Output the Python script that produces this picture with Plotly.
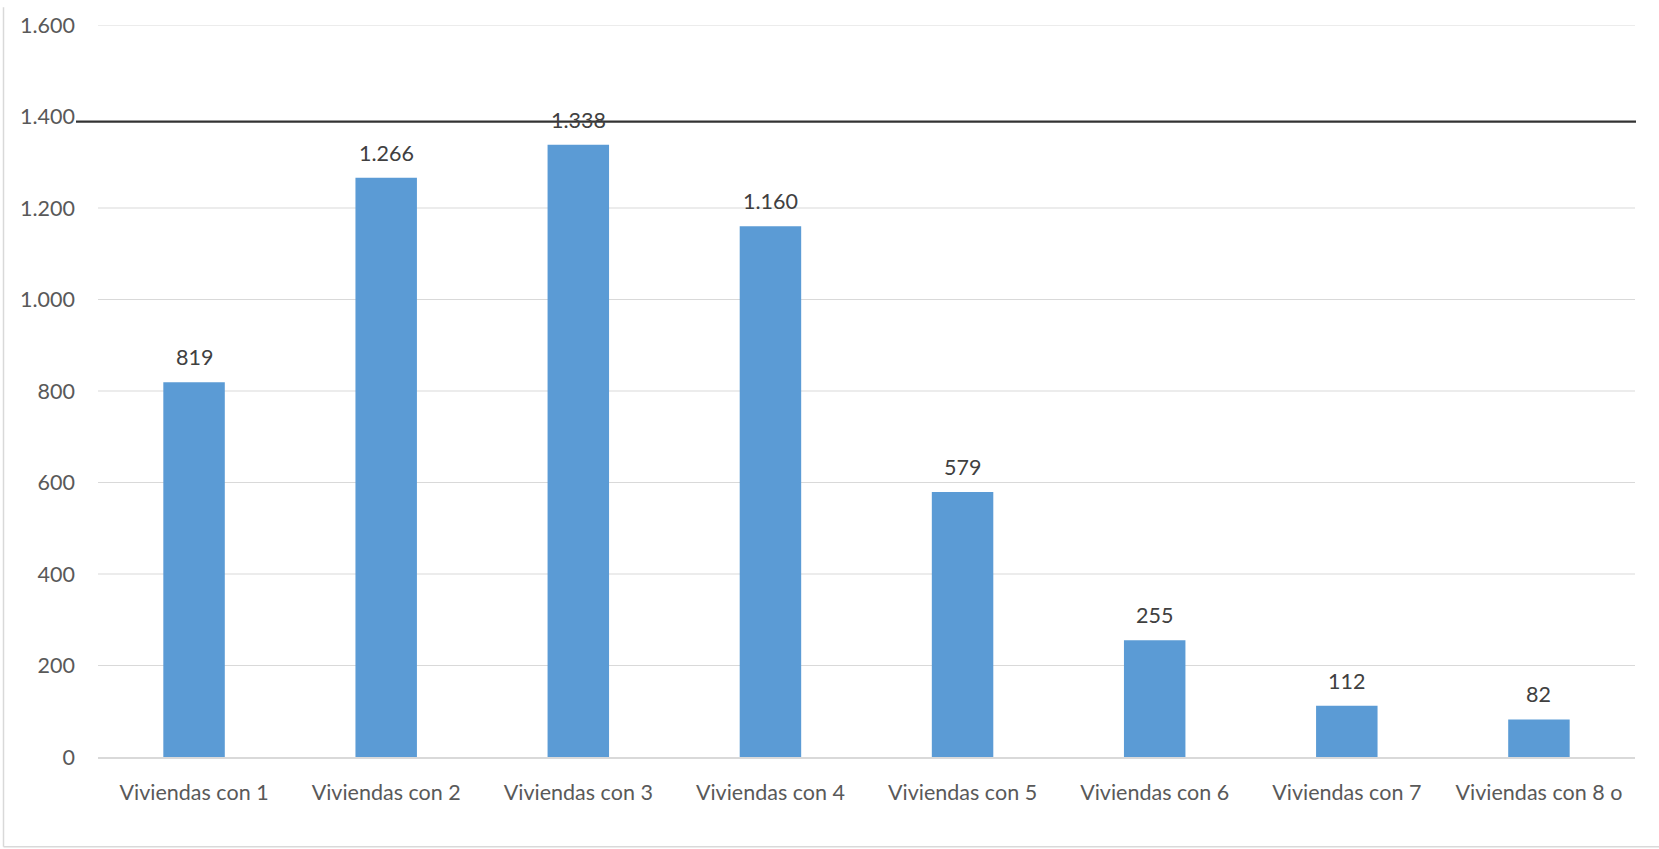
import plotly.graph_objects as go

categories = ["Viviendas con 1", "Viviendas con 2", "Viviendas con 3", "Viviendas con 4",
              "Viviendas con 5", "Viviendas con 6", "Viviendas con 7", "Viviendas con 8 o"]
values = [819, 1266, 1338, 1160, 579, 255, 112, 82]
y_ticks = [0, 200, 400, 600, 800, 1000, 1200, 1400, 1600]
ref_tick = 1400       # gridline replaced by the dark line
ref_line_value = 1389  # dark line position (drawn slightly below the 1.400 tick)

W, H = 1659, 849
ML, MR, MT, MB = 98, 24, 18, 92
PW = W - ML - MR
PH = H - MT - MB

FONT = "Lato"
FS = 21.5
TXT = "#595959"

fig = go.Figure()
fig.add_trace(go.Bar(x=categories, y=values, marker_color="#5b9bd5",
                     marker_line_width=0, hoverinfo="x+y"))

for c, v in zip(categories, values):
    fig.add_annotation(x=c, y=v, text=f"{v:,}".replace(",", "."), showarrow=False,
                       yanchor="bottom", yshift=10,
                       font=dict(family=FONT, size=FS, color="#404040"))

# horizontal gridlines
for t in y_ticks:
    if t == 0 or t == ref_tick:
        continue
    fig.add_shape(type="line", xref="paper", yref="y", x0=0, x1=1, y0=t, y1=t,
                  line=dict(color="#d9d9d9", width=1.2), layer="below")

# dark reference line extending to left of plot area
fig.add_shape(type="line", xref="paper", yref="y",
              x0=(76 - ML) / PW, x1=(1636 - ML) / PW, y0=ref_line_value, y1=ref_line_value,
              line=dict(color="#333333", width=2.2), layer="above")

# outer border (left and bottom only)
fig.add_shape(type="line", xref="paper", yref="paper",
              x0=(3.5 - ML) / PW, x1=(3.5 - ML) / PW,
              y0=(H - MB - 0) / PH, y1=(H - MB - 847.5) / PH,
              line=dict(color="#d9d9d9", width=1.5), layer="below")
fig.add_shape(type="line", xref="paper", yref="paper",
              x0=(3.5 - ML) / PW, x1=(W - ML) / PW,
              y0=(H - MB - 847.5) / PH, y1=(H - MB - 847.5) / PH,
              line=dict(color="#d9d9d9", width=1.5), layer="below")

fig.update_layout(
    width=W, height=H,
    margin=dict(l=ML, r=MR, t=MT, b=MB),
    paper_bgcolor="white", plot_bgcolor="white",
    separators=",.",
    bargap=0.68,
    showlegend=False,
    font=dict(family=FONT, size=FS, color=TXT),
    xaxis=dict(showgrid=False, ticks="", showline=True, linecolor="#d9d9d9", linewidth=1.5,
               tickfont=dict(family=FONT, size=FS, color=TXT), ticklabelstandoff=15),
    yaxis=dict(range=[0, 1600], tickvals=y_ticks, tickformat=",d",
               showgrid=False, zeroline=False,
               showline=False, ticks="", ticklabelstandoff=22,
               tickfont=dict(family=FONT, size=FS, color=TXT)),
)

fig.write_html("out.html", config={"displayModeBar": False},
               post_script="document.body.style.margin='0';document.body.style.overflow='hidden';")
